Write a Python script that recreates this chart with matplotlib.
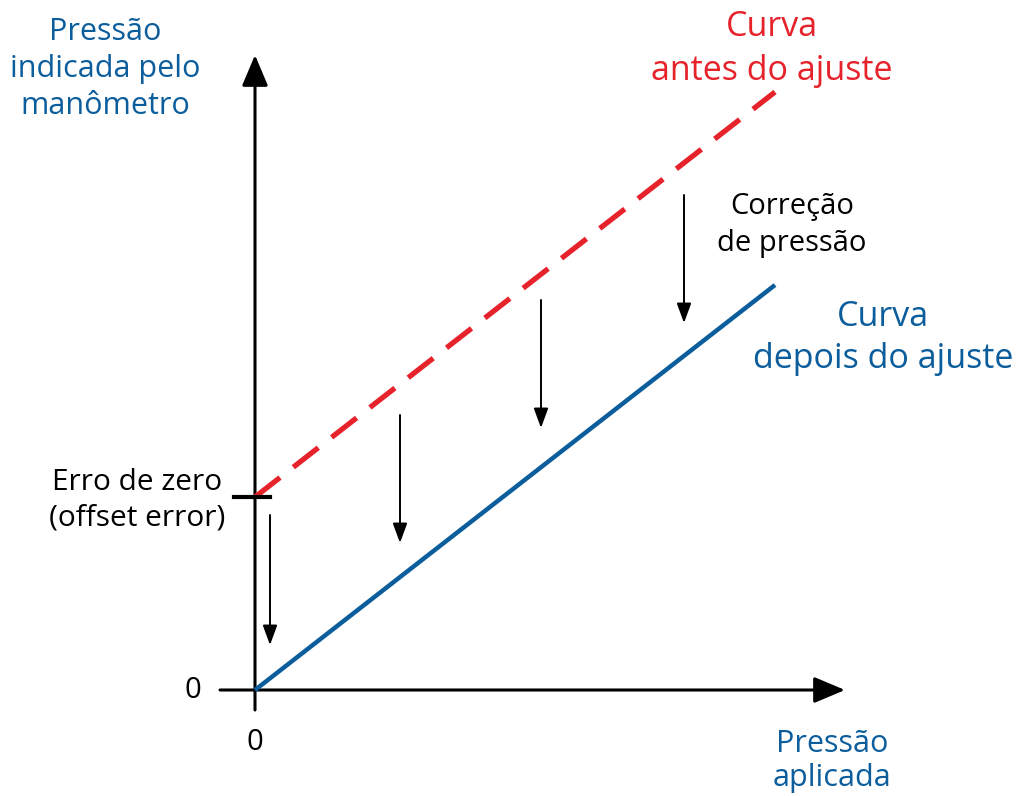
import matplotlib
matplotlib.use('Agg')
import matplotlib.pyplot as plt

plt.rcParams['font.family'] = ['Open Sans', 'DejaVu Sans']

# data (units: applied pressure / indicated pressure)
applied = [0.0, 5.2]
after_adjust = [0.0, 4.05]
before_adjust = [1.93, 5.98]
zero_error = 1.93

corr_x = [0.15, 1.45, 2.86, 4.29]
corr_top = [1.75, 2.75, 3.90, 4.95]
corr_bottom = [0.45, 1.47, 2.62, 3.67]

blue = '#0b5d9c'
red = '#e6222b'

fig = plt.figure(figsize=(10.16, 7.96), dpi=100)
ax = fig.add_axes([0, 0, 1, 1])
ax.set_xlim(-2.55, 7.61)
ax.set_ylim(-1.06, 6.90)
ax.axis('off')

# axes with arrow heads
axis_arrow = dict(arrowstyle='-|>,head_width=0.4,head_length=0.95', lw=2.2,
                  color='black', mutation_scale=20, shrinkA=0, shrinkB=0)
ax.annotate('', xy=(0, 6.35), xytext=(0, -0.2), arrowprops=axis_arrow)
ax.annotate('', xy=(5.9, 0), xytext=(-0.35, 0), arrowprops=axis_arrow)

# curves
ax.plot(applied, after_adjust, color=blue, lw=3.2, solid_capstyle='butt', zorder=3)
ax.plot(applied, before_adjust, color=red, lw=3.8, dashes=(6.0, 3.2),
        dash_capstyle='butt', zorder=3)

# zero error tick
ax.plot([-0.21, 0.15], [zero_error, zero_error], color='black', lw=3.0, zorder=4)

# correction arrows
small_arrow = dict(arrowstyle='-|>,head_width=0.22,head_length=0.6', lw=1.4,
                   color='black', mutation_scale=20, shrinkA=0, shrinkB=0)
for x, y0, y1 in zip(corr_x, corr_top, corr_bottom):
    ax.annotate('', xy=(x, y1), xytext=(x, y0), arrowprops=small_arrow)

# labels
ax.text(-1.50, 6.21, 'Pressão\nindicada pelo\nmanômetro', color=blue, fontsize=22,
        ha='center', va='center', linespacing=1.32)
ax.text(5.165, 6.41, 'Curva\nantes do ajuste', color=red, fontsize=24.5,
        ha='center', va='center', linespacing=1.35)
ax.text(5.37, 4.65, 'Correção\nde pressão', color='black', fontsize=21,
        ha='center', va='center', linespacing=1.35)
ax.text(6.28, 3.52, 'Curva\ndepois do ajuste', color=blue, fontsize=24.5,
        ha='center', va='center', linespacing=1.3)
ax.text(-1.18, 1.90, 'Erro de zero\n(offset error)', color='black', fontsize=21.5,
        ha='center', va='center', linespacing=1.3)
ax.text(-0.62, 0.0, '0', color='black', fontsize=21, ha='center', va='center')
ax.text(0.0, -0.53, '0', color='black', fontsize=21, ha='center', va='center')
ax.text(5.77, -0.71, 'Pressão\naplicada', color=blue, fontsize=22,
        ha='center', va='center', linespacing=1.18)

fig.savefig('out.png', dpi=100, facecolor='white')
